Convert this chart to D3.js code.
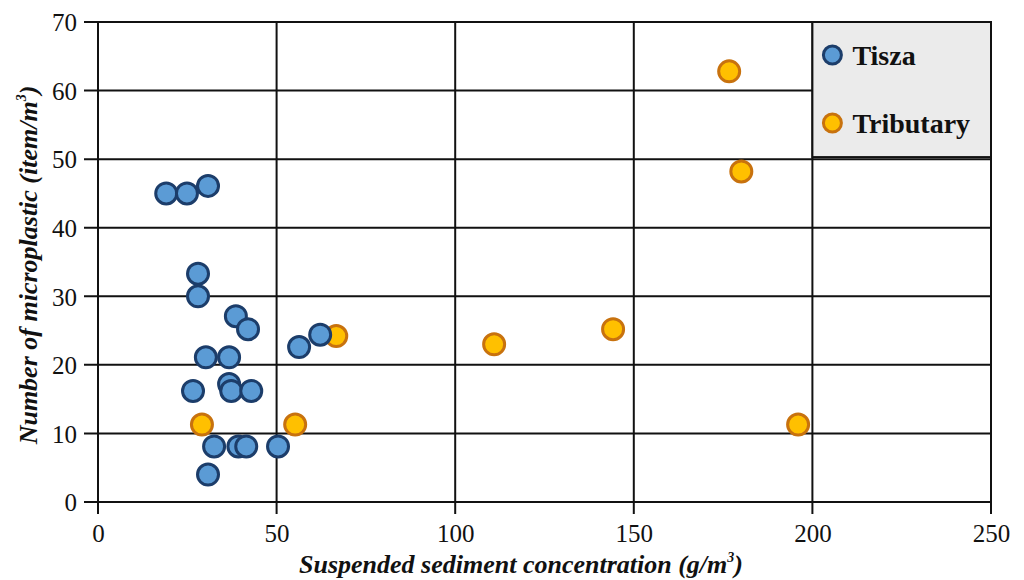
<!DOCTYPE html>
<html>
<head>
<meta charset="utf-8">
<script src="https://cdn.jsdelivr.net/npm/d3@7"></script>
<style>
  body{margin:0;background:#fff;}
  text{font-family:"Liberation Serif","Times New Roman",serif;fill:#111;}
  .tick text{font-size:25px;}
  .title{font-size:26px;font-weight:bold;font-style:italic;}
  .legend text{font-size:28px;font-weight:bold;}
</style>
</head>
<body>
<div id="chart"></div>
<script>
  var margin={left:98,top:22,right:33,bottom:78};
  var width=1024,height=580;
  var w=width-margin.left-margin.right, h=height-margin.top-margin.bottom;

  // Tisza samples: sediment (g/m3), microplastic (item/m3)
  var tiszaX=[19.1,24.9,30.8,28.0,28.0,38.6,42.0,30.2,36.7,56.3,62.2,26.6,36.7,37.3,42.9,32.5,39.3,41.5,50.4,30.8];
  var tiszaY=[45.0,45.0,46.1,33.3,30.0,27.1,25.2,21.1,21.1,22.6,24.4,16.2,17.2,16.2,16.2,8.1,8.1,8.1,8.1,4.0];
  // tributary samples
  var tribX=[29.1,55.2,66.7,110.9,144.2,176.7,180.1,196.0];
  var tribY=[11.3,11.3,24.2,23.0,25.2,62.8,48.2,11.3];

  var xTicks=[0,50,100,150,200,250];
  var yTicks=[0,10,20,30,40,50,60,70];
  var seriesNames=["Tisza","Tributary"];

  var tisza=tiszaX.map((d,i)=>({x:d,y:tiszaY[i]}));
  var trib=tribX.map((d,i)=>({x:d,y:tribY[i]}));

  var svg=d3.select("#chart").append("svg")
            .attr("width",width).attr("height",height)
            .append("g")
            .attr("transform","translate("+margin.left+","+margin.top+")");

  var x=d3.scaleLinear().domain([0,250]).range([0,w]);
  var y=d3.scaleLinear().domain([0,70]).range([h,0]);

  // grid
  svg.append("g").selectAll("line").data(yTicks).enter().append("line")
     .attr("x1",-14).attr("x2",w).attr("y1",d=>y(d)).attr("y2",d=>y(d))
     .attr("stroke","#111").attr("stroke-width",2);
  svg.append("g").selectAll("line").data(xTicks).enter().append("line")
     .attr("x1",d=>x(d)).attr("x2",d=>x(d)).attr("y1",0).attr("y2",h+12)
     .attr("stroke","#111").attr("stroke-width",2);

  // legend box covers the grid, from x=200 to 250 and y=70 down to ~50.3
  svg.append("rect")
     .attr("x",x(200)).attr("y",y(70))
     .attr("width",x(250)-x(200)).attr("height",y(50.3)-y(70))
     .attr("fill","#ebebeb").attr("stroke","#111").attr("stroke-width",2);

  var xAxis=d3.axisBottom(x).tickValues(xTicks).tickSize(0).tickPadding(22);
  var yAxis=d3.axisLeft(y).tickValues(yTicks).tickSize(0).tickPadding(21);
  var gx=svg.append("g").attr("transform","translate(0,"+h+")").call(xAxis);
  var gy=svg.append("g").call(yAxis);
  gx.select(".domain").remove();
  gy.select(".domain").remove();
  gx.selectAll("text").attr("fill","#111");
  gy.selectAll("text").attr("fill","#111").attr("dy","0.35em");

  // points: tributary below, Tisza on top
  svg.append("g").selectAll("circle").data(trib).enter().append("circle")
     .attr("cx",d=>x(d.x)).attr("cy",d=>y(d.y)).attr("r",10.5)
     .attr("fill","#ffc000").attr("stroke","#c8720e").attr("stroke-width",3);
  svg.append("g").selectAll("circle").data(tisza).enter().append("circle")
     .attr("cx",d=>x(d.x)).attr("cy",d=>y(d.y)).attr("r",10.5)
     .attr("fill","#5b9bd5").attr("stroke","#1c3d6a").attr("stroke-width",3);

  // legend
  var leg=svg.append("g").attr("class","legend");
  var legFill=["#5b9bd5","#ffc000"], legStroke=["#1c3d6a","#c8720e"];
  leg.selectAll("circle").data(seriesNames).enter().append("circle")
     .attr("cx",x(200)+20).attr("cy",(d,i)=>33+i*68).attr("r",9)
     .attr("fill",(d,i)=>legFill[i]).attr("stroke",(d,i)=>legStroke[i]).attr("stroke-width",3);
  leg.selectAll("text").data(seriesNames).enter().append("text")
     .attr("x",x(200)+40).attr("y",(d,i)=>33+i*68).attr("dy","0.35em")
     .text(d=>d);

  // axis titles
  var xt=svg.append("text").attr("class","title")
     .attr("x",423).attr("y",h+71).attr("text-anchor","middle");
  xt.append("tspan").text("Suspended sediment concentration (g/m");
  xt.append("tspan").attr("font-size","14px").attr("dy","-11").text("3");
  xt.append("tspan").attr("dy","11").text(")");

  var yt=svg.append("text").attr("class","title")
     .attr("transform","translate(-61,243) rotate(-90)")
     .attr("text-anchor","middle");
  yt.append("tspan").text("Number of microplastic (item/m");
  yt.append("tspan").attr("font-size","14px").attr("dy","-11").text("3");
  yt.append("tspan").attr("dy","11").text(")");
</script>
</body>
</html>
